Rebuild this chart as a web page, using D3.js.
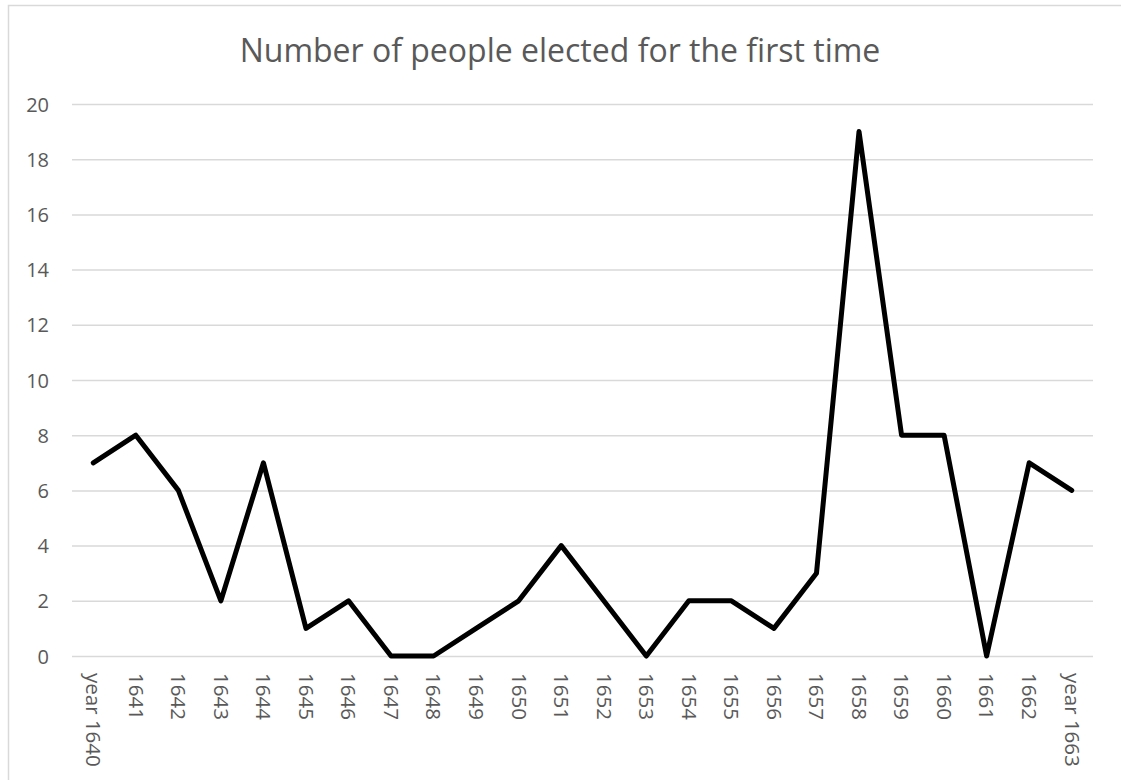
<!DOCTYPE html>
<html>
<head>
<meta charset="utf-8">
<script src="https://cdn.jsdelivr.net/npm/d3@7"></script>
<style>
  html, body { margin: 0; padding: 0; background: #fff; }
  svg { display: block; }
  text { font-family: "Open Sans", sans-serif; fill: #595959; }
</style>
</head>
<body>
<svg id="chart" width="1121" height="780"></svg>
<script>
// Categories (years) and the number of people elected for the first time
const years = ["year 1640", "1641", "1642", "1643", "1644", "1645", "1646", "1647",
  "1648", "1649", "1650", "1651", "1652", "1653", "1654", "1655", "1656", "1657",
  "1658", "1659", "1660", "1661", "1662", "year 1663"];
const newMembers = [7, 8, 6, 2, 7, 1, 2, 0, 0, 1, 2, 4, 2, 0, 2, 2, 1, 3, 19, 8, 8, 0, 7, 6];
const yTicks = [0, 2, 4, 6, 8, 10, 12, 14, 16, 18, 20];
const chartTitle = "Number of people elected for the first time";

const svg = d3.select("#chart");

// chart frame
svg.append("rect")
  .attr("x", 8.5).attr("y", 5.5)
  .attr("width", 1130).attr("height", 800)
  .attr("fill", "#fff")
  .attr("stroke", "#d9d9d9").attr("stroke-width", 1.5);

const plot = { left: 72, right: 1093, top: 104, bottom: 656 };

const x = d3.scaleBand()
  .domain(years)
  .range([plot.left, plot.right]);

const y = d3.scaleLinear()
  .domain([0, 20])
  .range([plot.bottom, plot.top]);

// horizontal gridlines
svg.append("g")
  .selectAll("line")
  .data(yTicks)
  .join("line")
  .attr("x1", plot.left).attr("x2", plot.right)
  .attr("y1", d => y(d) + 0.5).attr("y2", d => y(d) + 0.5)
  .attr("stroke", "#d9d9d9").attr("stroke-width", 1.5);

// y-axis labels
const yAxis = d3.axisLeft(y).tickValues(yTicks).tickSize(0).tickPadding(0);
const gy = svg.append("g")
  .attr("transform", `translate(${49},0)`)
  .call(yAxis);
gy.select(".domain").remove();
gy.selectAll("text")
  .style("font-family", "'Open Sans', sans-serif")
  .style("font-size", "20px")
  .attr("fill", "#595959")
  .attr("dy", "0.35em");

// x-axis labels, rotated to read top to bottom
const xAxis = d3.axisBottom(x).tickSize(0).tickPadding(0);
const gx = svg.append("g")
  .attr("transform", `translate(0,${plot.bottom})`)
  .call(xAxis);
gx.select(".domain").remove();
gx.selectAll("text")
  .style("font-family", "'Open Sans', sans-serif")
  .style("font-size", "20.5px")
  .attr("fill", "#595959")
  .attr("text-anchor", "start")
  .attr("x", 0).attr("y", 0)
  .attr("dy", "0.35em")
  .attr("transform", "translate(0,17) rotate(90)");

// data line
const line = d3.line()
  .x((d, i) => x(years[i]) + x.bandwidth() / 2)
  .y(d => y(d));

svg.append("path")
  .datum(newMembers)
  .attr("d", line)
  .attr("fill", "none")
  .attr("stroke", "#000")
  .attr("stroke-width", 5)
  .attr("stroke-linejoin", "round")
  .attr("stroke-linecap", "round");

// title
svg.append("text")
  .attr("x", 560).attr("y", 62)
  .attr("text-anchor", "middle")
  .style("font-size", "32px")
  .text(chartTitle);
</script>
</body>
</html>
